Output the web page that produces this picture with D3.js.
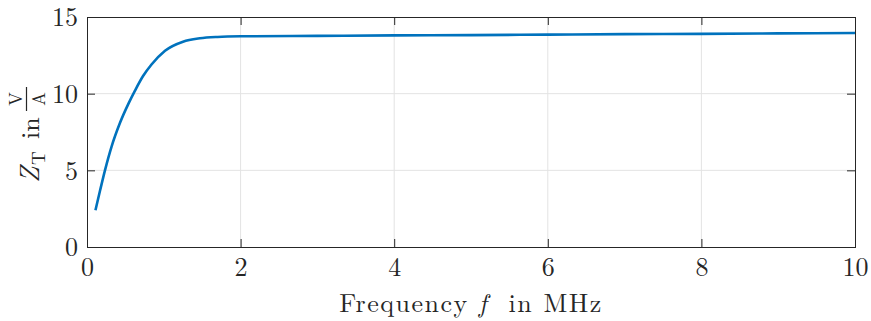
<!DOCTYPE html>
<html>
<head>
<meta charset="utf-8">
<script src="https://cdn.jsdelivr.net/npm/d3@7"></script>
<style>
  html, body { margin: 0; padding: 0; background: #fff; }
  svg { display: block; }
  text { font-family: "Latin Modern Roman", "CMU Serif", "Liberation Serif", serif; fill: #262626; }
</style>
</head>
<body>
<svg id="chart" width="871" height="321"></svg>
<script>
// Transimpedance magnitude versus frequency
const frequencyMHz = [0.11, 0.17, 0.234, 0.32, 0.43, 0.54, 0.625, 0.73, 0.84, 1.016, 1.25, 1.47, 1.7, 2.0, 3, 4, 5, 6, 7, 8, 9, 10];
const impedanceVA = [2.4, 3.68, 5.0, 6.55, 8.1, 9.35, 10.2, 11.15, 11.9, 12.8, 13.39, 13.61, 13.7, 13.74, 13.77, 13.8, 13.82, 13.85, 13.88, 13.9, 13.93, 13.96];
const xTicks = [0, 2, 4, 6, 8, 10];
const yTicks = [0, 5, 10, 15];
const xDomain = [0, 10];
const yDomain = [0, 15];

const margin = { left: 87, right: 16, top: 17, bottom: 74 };
const W = 871, H = 321;
const iw = W - margin.left - margin.right;
const ih = H - margin.top - margin.bottom;

const svg = d3.select("#chart");
const g = svg.append("g").attr("transform", `translate(${margin.left},${margin.top})`);

const x = d3.scaleLinear().domain(xDomain).range([0, iw]);
const y = d3.scaleLinear().domain(yDomain).range([ih, 0]);

// grid
const gridColor = "#e3e3e3";
g.append("g").selectAll("line").data(xTicks.slice(1, -1)).join("line")
  .attr("x1", d => x(d)).attr("x2", d => x(d)).attr("y1", 0).attr("y2", ih)
  .attr("stroke", gridColor).attr("stroke-width", 1);
g.append("g").selectAll("line").data(yTicks.slice(1, -1)).join("line")
  .attr("y1", d => y(d)).attr("y2", d => y(d)).attr("x1", 0).attr("x2", iw)
  .attr("stroke", gridColor).attr("stroke-width", 1);

// curve
const line = d3.line().x((d, i) => x(frequencyMHz[i])).y(d => y(d)).curve(d3.curveMonotoneX);
g.append("path").datum(impedanceVA)
  .attr("d", line)
  .attr("fill", "none")
  .attr("stroke", "#0072BD")
  .attr("stroke-width", 2.6)
  .attr("stroke-linejoin", "round");

// axes
const tick = 8;
const axisColor = "#262626";
function style(sel) {
  sel.select(".domain").remove();
  sel.selectAll(".tick line").attr("stroke", axisColor);
  sel.selectAll(".tick text").attr("font-size", 26).attr("fill", axisColor)
    .style("font-family", '"Latin Modern Roman", "CMU Serif", "Liberation Serif", serif');
}
const xb = g.append("g").attr("transform", `translate(0,${ih})`)
  .call(d3.axisBottom(x).tickValues(xTicks).tickFormat(d3.format("d")).tickSize(-tick));
style(xb);
xb.selectAll(".tick text").attr("y", 29).attr("dy", null);

g.append("g").call(d3.axisTop(x).tickValues(xTicks).tickFormat("").tickSize(-tick)).call(style);

const yl = g.append("g")
  .call(d3.axisLeft(y).tickValues(yTicks).tickFormat(d3.format("d")).tickSize(-tick));
style(yl);
yl.selectAll(".tick text").attr("x", -9).attr("dy", "0.34em");

g.append("g").attr("transform", `translate(${iw},0)`)
  .call(d3.axisRight(y).tickValues(yTicks).tickFormat("").tickSize(-tick)).call(style);

// box
g.append("rect").attr("x", 0).attr("y", 0).attr("width", iw).attr("height", ih)
  .attr("fill", "none").attr("stroke", axisColor).attr("stroke-width", 1)
  .attr("shape-rendering", "crispEdges");

// x label
const xl = svg.append("text")
  .attr("x", margin.left + iw / 2).attr("y", 312)
  .attr("text-anchor", "middle").attr("font-size", 26)
  .attr("letter-spacing", 1.5)
  .style("white-space", "pre");
xl.append("tspan").text("Frequency ");
xl.append("tspan").attr("font-style", "italic").text("f");
xl.append("tspan").text("  in MHz");

// y label: Z_T in V/A (rotated)
const ylab = svg.append("g").attr("transform", "translate(39,135) rotate(-90)");
ylab.append("text").attr("x", -48).attr("y", 0).attr("font-size", 27)
  .attr("font-style", "italic").text("Z");
ylab.append("text").attr("x", -30).attr("y", 6).attr("font-size", 19).text("T");
ylab.append("text").attr("x", -4).attr("y", 0).attr("font-size", 26).text("in");
ylab.append("text").attr("x", 36).attr("y", -17).attr("font-size", 18)
  .attr("text-anchor", "middle").text("V");
ylab.append("line").attr("x1", 24).attr("x2", 48).attr("y1", -12.5).attr("y2", -12.5)
  .attr("stroke", axisColor).attr("stroke-width", 1.2);
ylab.append("text").attr("x", 36).attr("y", 6).attr("font-size", 18)
  .attr("text-anchor", "middle").text("A");
</script>
</body>
</html>
